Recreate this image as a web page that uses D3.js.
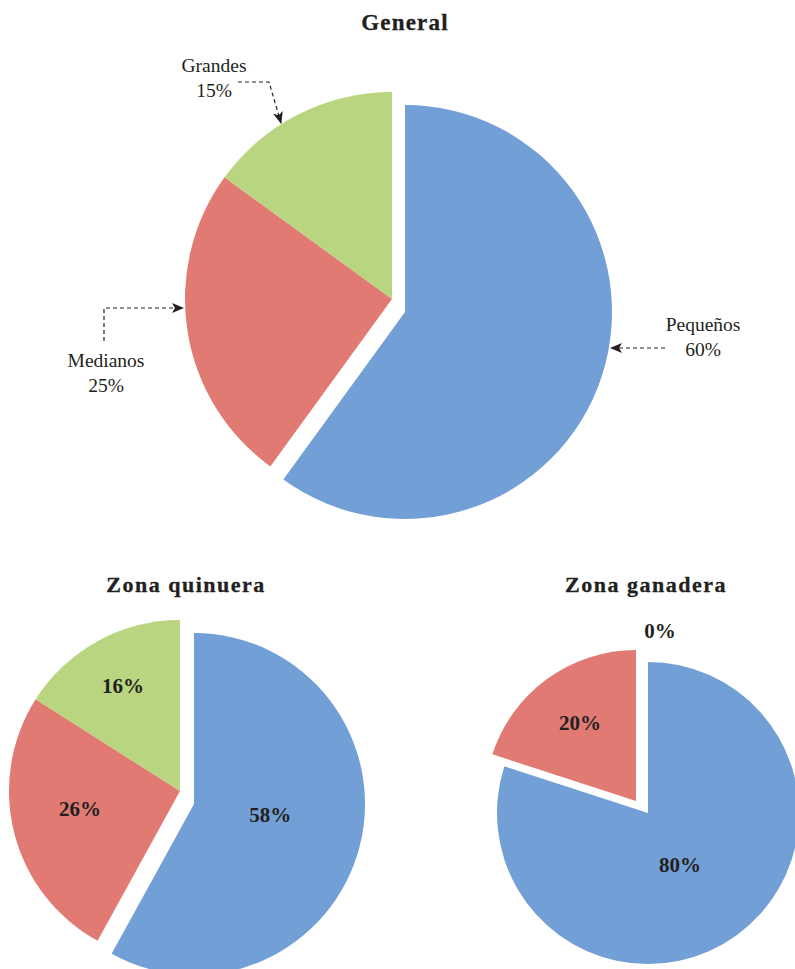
<!DOCTYPE html>
<html>
<head>
<meta charset="utf-8">
<script src="https://cdn.jsdelivr.net/npm/d3@7"></script>
<style>
  html, body { margin: 0; padding: 0; background: #fff; }
  svg { display: block; }
</style>
</head>
<body>
<svg id="chart" width="795" height="969"></svg>
<script>
// ---- data ----
const categories = ["Pequeños", "Medianos", "Grandes"];
const generalValues = [60, 25, 15];
const quinueraValues = [58, 26, 16];
const ganaderaValues = [80, 20, 0];
const chartTitles = ["General", "Zona quinuera", "Zona ganadera"];
const sliceColors = ["#729fd5", "#e07a73", "#b9d580"];

// ---- layout ----
const svg = d3.select("#chart");
const serif = "'Liberation Serif', 'Times New Roman', serif";

const charts = [
  { title: chartTitles[0], values: generalValues, cx: 392, cy: 299, r: 207, explode: [13, 13], titleX: 405, titleY: 30, titleSize: 23, ls: 1.2, inner: false },
  { title: chartTitles[1], values: quinueraValues, cx: 180, cy: 791, r: 171, explode: [14, 13], titleX: 186, titleY: 592, titleSize: 22, ls: 1.5, inner: true,
    labelPolar: [[0.45, 98], [0.594, 260], [0.70, 331.5]] },
  { title: chartTitles[2], values: ganaderaValues, cx: 636, cy: 801, r: 151, explode: [12, 12], titleX: 646, titleY: 592, titleSize: 22, ls: 1.5, inner: true,
    labelPolar: [[0.40, 148], [0.64, 324.5], [1.13, 4]] }
];

const pie = d3.pie().sort(null).value(d => d);

charts.forEach(c => {
  const arcs = pie(c.values);
  const arc = d3.arc().innerRadius(0).outerRadius(c.r);
  const g = svg.append("g").attr("transform", `translate(${c.cx},${c.cy})`);

  g.selectAll("path.slice")
    .data(arcs)
    .join("path")
    .attr("class", "slice")
    .attr("d", arc)
    .attr("fill", (d, i) => sliceColors[i])
    .attr("transform", (d, i) => i === 0 ? `translate(${c.explode[0]},${c.explode[1]})` : null);

  svg.append("text")
    .attr("x", c.titleX).attr("y", c.titleY)
    .attr("text-anchor", "middle")
    .attr("font-family", serif)
    .attr("font-weight", "bold")
    .attr("font-size", c.titleSize)
    .attr("letter-spacing", c.ls)
    .attr("stroke", "#231f20")
    .attr("stroke-width", 0.3)
    .attr("fill", "#231f20")
    .text(c.title);

  if (c.inner) {
    g.selectAll("text.val")
      .data(arcs)
      .join("text")
      .attr("class", "val")
      .attr("transform", (d, i) => {
        const [f, deg] = c.labelPolar[i];
        const a = deg * Math.PI / 180;
        const rr = f * c.r;
        const ox = i === 0 || d.value === 0 ? c.explode[0] : 0;
        const oy = i === 0 ? c.explode[1] : 0;
        return `translate(${rr * Math.sin(a) + ox},${-rr * Math.cos(a) + oy})`;
      })
      .attr("text-anchor", "middle")
      .attr("dy", "0.35em")
      .attr("font-family", serif)
      .attr("font-weight", "bold")
      .attr("font-size", 21)
      .attr("fill", "#231f20")
      .text(d => d.value + "%");
  }
});

// ---- annotations for General ----
const defs = svg.append("defs");
defs.append("marker")
  .attr("id", "arrow")
  .attr("viewBox", "0 0 12 10")
  .attr("refX", 11).attr("refY", 5)
  .attr("markerWidth", 12).attr("markerHeight", 10)
  .attr("markerUnits", "userSpaceOnUse")
  .attr("orient", "auto")
  .append("path")
  .attr("d", "M0,0 L12,5 L0,10 L3,5 Z")
  .attr("fill", "#231f20");

const gen = charts[0];
const genArcs = pie(gen.values);
const line = d3.line();

// text: [x, baseline of the percentage line] relative to pie centre
const annotations = [
  { idx: 2, text: [-178, -202], path: [[-154, -217], [-123, -217], [-111, -176]] },
  { idx: 1, text: [-286, 93], path: [[-288, 42], [-288, 9], [-209, 9]] },
  { idx: 0, text: [311, 57], path: [[273, 49], [219, 49]] }
];

annotations.forEach(a => {
  const d = genArcs[a.idx];
  svg.append("path")
    .attr("transform", `translate(${gen.cx},${gen.cy})`)
    .attr("d", line(a.path))
    .attr("fill", "none")
    .attr("stroke", "#231f20")
    .attr("stroke-width", 1.2)
    .attr("stroke-dasharray", "4,3")
    .attr("marker-end", "url(#arrow)");
  const x = gen.cx + a.text[0], y = gen.cy + a.text[1];
  const t = svg.append("text")
    .attr("text-anchor", "middle")
    .attr("font-family", serif)
    .attr("font-size", 19.5)
    .attr("fill", "#231f20");
  t.append("tspan").attr("x", x).attr("y", y - 25).text(categories[a.idx]);
  t.append("tspan").attr("x", x).attr("y", y).text(d.value + "%");
});
</script>
</body>
</html>
